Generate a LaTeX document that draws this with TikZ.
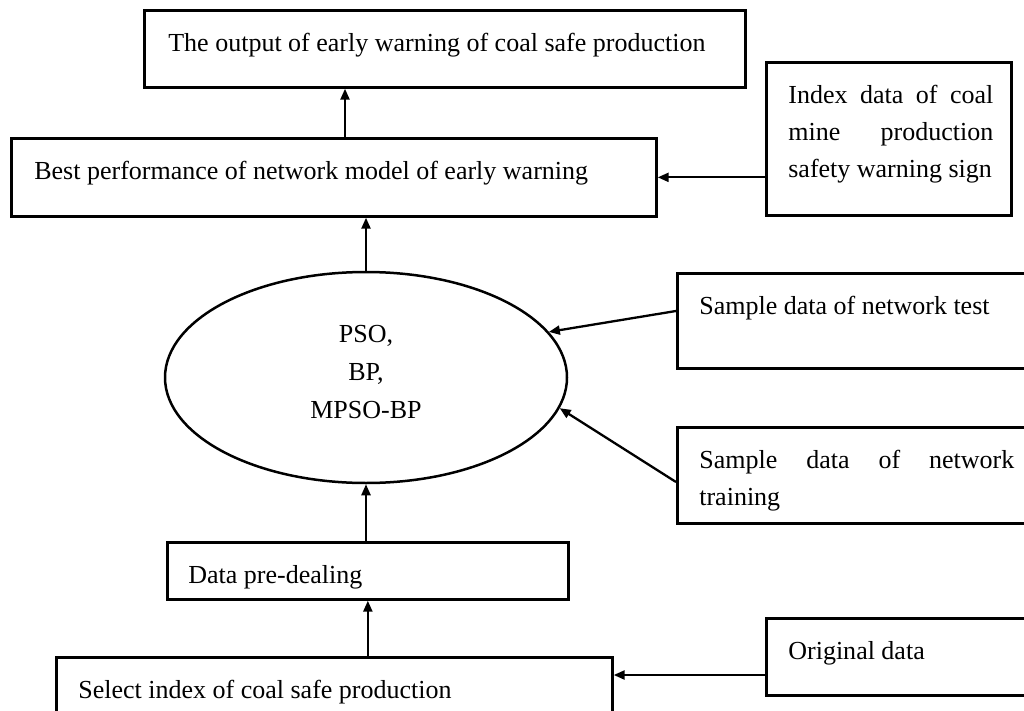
\documentclass[tikz,border=0pt]{standalone}
\usepackage{fontspec}
\setmainfont{Liberation Serif}
\usetikzlibrary{arrows.meta,shapes.geometric}
\newcommand\boxtxt[5]{\parbox[c][#2pt][t]{#1pt}{\vspace*{15pt}\hspace*{#3pt}\parbox[t]{#4pt}{\strut #5}}}
\begin{document}
\begin{tikzpicture}[x=1pt,y=-1pt,
  box/.style={draw, line width=2.7pt, inner sep=0pt, anchor=north west,
              font=\fontsize{26}{37}\selectfont},
  ell/.style={draw, ellipse, line width=2.5pt, inner sep=0pt,
              minimum width=402pt, minimum height=211pt, align=center,
              font=\fontsize{26}{38}\selectfont},
  arr/.style={line width=2.3pt, -{Triangle[length=11pt,width=9pt]}}]
\useasboundingbox (0,0) rectangle (1024,711);
\fill[white] (0,0) rectangle (1024,711);
\tolerance=10000 \hbadness=10000

\node[box] (top) at (143,9) {\boxtxt{601}{77}{24}{560}{The output of early warning of coal safe production}};
\node[box] (best) at (10,137) {\boxtxt{645}{78}{23}{600}{Best performance of network model of early warning}};
\node[box] (idx) at (765,61) {\boxtxt{245}{153}{22}{205}{Index data of coal\linebreak mine production\linebreak safety warning sign}};
\node[ell] (ell) at (366,377.5) {PSO,\\BP,\\MPSO-BP\rule[-12pt]{0pt}{0pt}};
\node[box] (test) at (676,272) {\boxtxt{354}{95}{22}{320}{Sample data of network test}};
\node[box] (train) at (676,426) {\boxtxt{354}{96}{22}{315}{Sample data of network\linebreak training}};
\node[box] (data) at (166,541) {\boxtxt{401}{57}{21}{370}{Data pre-dealing}};
\node[box] (sel) at (55,656) {\boxtxt{556}{69}{22}{520}{Select index of coal safe production}};
\node[box] (orig) at (765,617) {\boxtxt{265}{77}{22}{235}{Original data}};

\coordinate (ax) at (345,0);
\coordinate (t1) at (0,311);
\coordinate (t2) at (0,482);
\coordinate (t3) at (0,675);

\draw[arr] (best.north -| ax) -- (top.south -| ax);
\draw[arr] (ell.north) -- (best.south -| ell.north);
\draw[arr] (idx.west |- best.east) -- (best.east);
\draw[arr] (test.west |- t1) -- (ell.14);
\draw[arr] (train.west |- t2) -- (ell.-9);
\draw[arr] (data.north -| ell.south) -- (ell.south);
\draw[arr] (sel.north -| data.south) -- (data.south);
\draw[arr] (orig.west |- t3) -- (sel.east |- t3);
\end{tikzpicture}
\end{document}
